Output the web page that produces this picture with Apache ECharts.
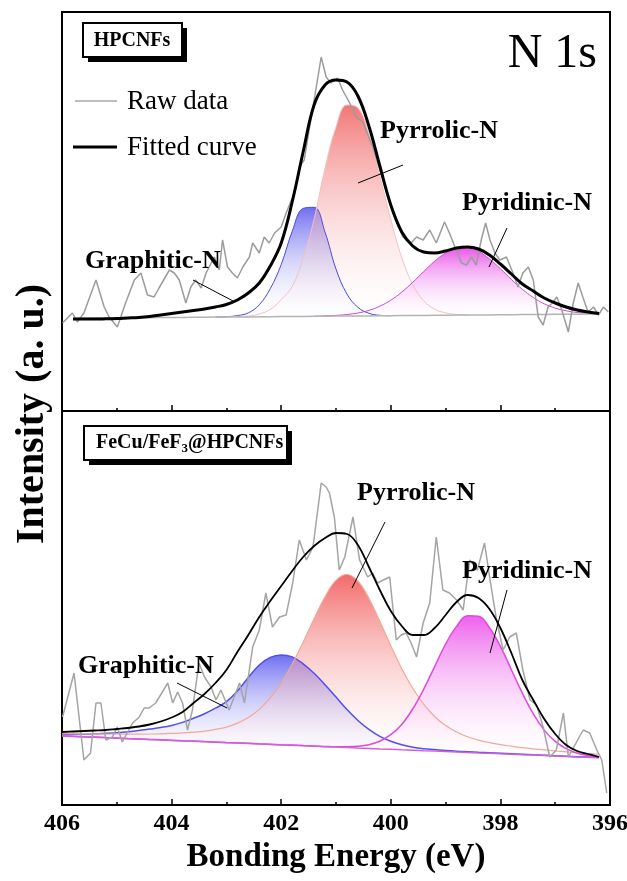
<!DOCTYPE html>
<html>
<head>
<meta charset="utf-8">
<script src="https://cdn.jsdelivr.net/npm/echarts@6/dist/echarts.min.js"></script>
<style>
  html, body { margin: 0; padding: 0; background: #fff; }
  #chart { width: 627px; height: 881px; }
</style>
</head>
<body>
<div id="chart"></div>
<script>
// energy grid shared by the fitted curves and the peak components (eV)
const energy = [406.0, 405.8, 405.6, 405.4, 405.2, 405.0, 404.8, 404.6, 404.4, 404.2,
  404.0, 403.8, 403.6, 403.4, 403.2, 403.0, 402.8, 402.6, 402.4, 402.2,
  402.0, 401.8, 401.6, 401.4, 401.2, 401.0, 400.8, 400.6, 400.4, 400.2,
  400.0, 399.8, 399.6, 399.4, 399.2, 399.0, 398.8, 398.6, 398.4, 398.2,
  398.0, 397.8, 397.6, 397.4, 397.2, 397.0, 396.8, 396.6, 396.4, 396.2, 396.0]
const xTicks = [406, 404, 402, 400, 398, 396]

// ---- HPCNFs (top panel) ----
const baseTop = [null, 91.7, 91.8, 91.9, 92.0, 92.1, 92.2, 92.2, 92.3, 92.4,
  92.5, 92.6, 92.7, 92.8, 92.9, 93.0, 93.1, 93.1, 93.2, 93.3,
  93.4, 93.5, 93.6, 93.7, 93.8, 93.9, 94.0, 94.0, 94.1, 94.2,
  94.3, 94.4, 94.5, 94.6, 94.7, 94.8, 94.9, 94.9, 95.0, 95.1,
  95.2, 95.3, 95.4, 95.5, 95.6, 95.7, 95.8, 95.8, 95.9, 96.0, null]
const graphiticTop = [null, null, null, null, null, null, null, null, null, null,
  null, null, null, null, 0, 0.3, 1.3, 4, 12, 28,
  52, 85, 108, 109, 84, 47, 22, 8.6, 2.6, 0.5,
  0, null, null, null, null, null, null, null, null, null,
  null, null, null, null, null, null, null, null, null, null, null]
const pyrrolicTop = [null, null, null, null, null, null, null, null, null, null,
  null, null, null, null, null, 0, 0.5, 0.9, 2.8, 7.3,
  17, 30, 58, 97, 148, 189, 211, 208, 182, 140,
  96, 58, 31, 14.6, 6.1, 2.3, 0.7, 0, null, null,
  null, null, null, null, null, null, null, null, null, null, null]
const pyridinicTop = [null, null, null, null, null, null, null, null, null, null,
  null, null, null, null, null, null, null, null, null, null,
  null, null, null, 0, 0.3, 0.7, 1.5, 3.0, 5.5, 9.6,
  15.5, 23.5, 33.2, 43.8, 54.1, 62.3, 67.2, 67.6, 63.6, 56,
  46, 35.3, 25.3, 17, 10.6, 6.2, 3.4, 1.7, 0.8, 0.4, null]
const fitTop = [null, 91, 91, 91, 91.2, 91.5, 92, 92.5, 93.5, 95,
  96.5, 98, 99.5, 101, 103, 105.5, 110, 117, 127, 144,
  167, 208, 258, 305, 325, 330, 328, 314, 284, 244,
  205, 178, 164, 158, 157, 159, 162, 163, 161, 155,
  146, 136, 126, 119, 112, 107, 103, 100, 98, 96.5, null]
const rawTopE = [405.99, 405.81, 405.72, 405.60, 405.38, 405.23, 405.14, 404.99, 404.84, 404.68,
  404.56, 404.44, 404.32, 404.23, 404.04, 403.95, 403.86, 403.74, 403.65, 403.56,
  403.46, 403.37, 403.22, 403.13, 403.07, 402.98, 402.89, 402.80, 402.70, 402.58,
  402.52, 402.40, 402.31, 402.22, 402.12, 402.00, 401.91, 401.79, 401.73, 401.67,
  401.58, 401.52, 401.42, 401.36, 401.27, 401.18, 401.09, 400.97, 400.88, 400.75,
  400.63, 400.51, 400.33, 400.14, 399.96, 399.78, 399.63, 399.53, 399.41, 399.29,
  399.17, 399.02, 398.93, 398.83, 398.71, 398.62, 398.53, 398.44, 398.35, 398.27,
  398.19, 398.10, 398.01, 397.89, 397.77, 397.68, 397.59, 397.49, 397.40, 397.31,
  397.22, 397.13, 397.05, 396.97, 396.88, 396.76, 396.67, 396.58, 396.49, 396.40,
  396.30, 396.21, 396.12, 396.03]
const rawTopI = [87, 97, 88, 97, 130, 103, 93, 83, 107, 130,
  137, 115, 113, 122, 140, 137, 130, 107, 123, 130,
  122, 137, 153, 140, 170, 143, 137, 132, 143, 153,
  167, 157, 173, 167, 177, 183, 197, 213, 223, 243,
  250, 270, 303, 323, 353, 333, 327, 332, 320, 307,
  293, 288, 263, 230, 197, 173, 167, 173, 170, 180,
  167, 188, 177, 163, 147, 145, 153, 145, 170, 187,
  170, 157, 150, 153, 137, 123, 137, 143, 130, 93,
  85, 103, 107, 113, 100, 78, 107, 127, 112, 98,
  103, 95, 103, 98]

// ---- FeCu/FeF3@HPCNFs (bottom panel) ----
const baseBot = [69.0, 68.6, 68.1, 67.7, 67.2, 66.8, 66.3, 65.9, 65.4, 65.0,
  64.6, 64.1, 63.7, 63.2, 62.8, 62.3, 61.9, 61.5, 61.0, 60.6,
  60.1, 59.7, 59.2, 58.8, 58.3, 57.9, 57.5, 57.0, 56.6, 56.1,
  55.7, 55.2, 54.8, 54.3, 53.9, 53.5, 53.0, 52.6, 52.1, 51.7,
  51.2, 50.8, 50.3, 49.9, 49.5, 49.0, 48.6, 48.1, 47.7, 47.2, null]
const graphiticBot = [2, 2.5, 3, 3.5, 4.5, 5.5, 7, 8.5, 10.5, 12.5,
  15, 18.5, 23, 28, 34, 41, 52, 66, 79, 87,
  90, 88.4, 82, 73, 62, 50, 38, 27.5, 19, 12.5,
  8, 5, 3, 2, 1.5, 1, 0.8, 0.7, 0.6, 0.5,
  0.5, 0.4, 0.4, 0.3, 0.3, 0.3, 0.2, 0.2, 0.2, 0.2, null]
const pyrrolicBot = [2.8, 3.0, 3.2, 3.5, 3.8, 4.2, 4.6, 5.0, 5.6, 6.2,
  7.0, 8.0, 9.2, 10.7, 12.8, 15.6, 20, 26, 34.6, 46.5,
  62, 81, 103.6, 127.5, 150, 166.8, 173, 166.8, 150, 127.5,
  103.6, 81, 62, 46.5, 34.6, 26, 20, 15.6, 12.8, 10.7,
  9.2, 8.0, 7.0, 6.2, 5.6, 5.0, 4.6, 4.2, 3.8, 3.5, null]
const pyridinicBot = [0.2, 0.2, 0.2, 0.2, 0.2, 0.2, 0.2, 0.2, 0.2, 0.2,
  0.2, 0.2, 0.2, 0.2, 0.2, 0.2, 0.2, 0.2, 0.2, 0.2,
  0.2, 0.2, 0.2, 0.2, 0.2, 0.3, 0.7, 1.7, 3.7, 7.7,
  14.6, 25.4, 41.2, 61.5, 84.5, 107.5, 125.6, 136.6, 136.6, 125.6,
  107.5, 84.5, 61.5, 41.2, 25.4, 14.6, 7.7, 3.7, 1.7, 0.7, null]
const fitBot = [73, 73.5, 74, 74.5, 75, 76, 77, 78.5, 80.5, 83.5,
  87.5, 93, 102, 111, 122, 135, 153, 170, 188, 204,
  219, 234, 248, 259, 267, 272, 271, 260, 238, 215,
  194, 179, 170, 170, 177, 190, 203, 210, 207, 196,
  177, 152, 125, 105, 86, 71, 60, 54, 51, 48, null]
const rawBotE = [405.99, 405.78, 405.60, 405.48, 405.38, 405.29, 405.20, 405.08, 404.99, 404.90,
  404.71, 404.59, 404.50, 404.41, 404.29, 404.07, 403.98, 403.89, 403.80, 403.71,
  403.62, 403.50, 403.40, 403.28, 403.19, 403.10, 402.95, 402.76, 402.67, 402.52,
  402.40, 402.28, 402.16, 402.03, 401.91, 401.79, 401.67, 401.54, 401.42, 401.27,
  401.18, 401.12, 401.03, 400.94, 400.84, 400.69, 400.57, 400.42, 400.33, 400.24,
  400.14, 400.02, 399.90, 399.81, 399.72, 399.63, 399.53, 399.41, 399.29, 399.17,
  399.05, 398.93, 398.80, 398.68, 398.56, 398.42, 398.29, 398.18, 398.07, 397.95,
  397.83, 397.71, 397.59, 397.46, 397.34, 397.22, 397.10, 396.98, 396.85, 396.76,
  396.62, 396.49, 396.37, 396.24, 396.15, 396.06]
const rawBotI = [88, 132, 45, 52, 102, 102, 65, 68, 78, 63,
  82, 88, 97, 97, 102, 122, 102, 113, 102, 75,
  95, 142, 128, 118, 105, 115, 95, 122, 102, 158,
  175, 212, 178, 188, 190, 222, 265, 245, 258, 322,
  318, 312, 288, 235, 248, 288, 245, 228, 232, 222,
  225, 228, 165, 170, 172, 162, 148, 182, 202, 268,
  215, 212, 205, 195, 245, 235, 262, 222, 185, 155,
  168, 172, 135, 105, 100, 78, 48, 55, 92, 48,
  62, 75, 72, 55, 45, 12]

const F = "'Liberation Serif', 'Times New Roman', serif"
const gaps = a => a.map(v => (v == null ? '-' : v))
const pairs = (xs, ys) => xs.map((x, i) => [x, ys[i]])
const fade = (c1, c2) => new echarts.graphic.LinearGradient(0, 0, 0, 1, [
  { offset: 0, color: c1 }, { offset: 1, color: c2 }
])

// each component is stacked on its own (hidden) copy of the baseline
function component(stack, panel, base, vals, line, lw, c1, c2) {
  return [
    { type: 'line', xAxisIndex: panel * 2, yAxisIndex: panel, stack, data: gaps(base),
      symbol: 'none', lineStyle: { opacity: 0 }, silent: true },
    { type: 'line', xAxisIndex: panel * 2, yAxisIndex: panel, stack, data: gaps(vals),
      symbol: 'none', smooth: 0.4, lineStyle: { color: line, width: lw },
      areaStyle: { color: fade(c1, c2), opacity: 1 } }
  ]
}

const catAxis = grid => ({ type: 'category', gridIndex: grid, position: 'top', data: energy, boundaryGap: false, show: false })
const valAxis = (grid, labels) => ({
  type: 'value', gridIndex: grid, position: 'bottom', min: 396, max: 406, interval: 2, inverse: true,
  axisLine: { show: false, onZero: false },
  axisTick: { show: true, inside: true, length: 6, lineStyle: { color: '#000', width: 1.5 } },
  minorTick: { show: true, splitNumber: 2, length: 3, lineStyle: { color: '#000', width: 1.5 } },
  splitLine: { show: false },
  axisLabel: {
    show: labels, margin: 7, color: '#000', fontFamily: F, fontWeight: 'bold', fontSize: 24,
    formatter: v => (xTicks.indexOf(v) >= 0 ? String(v) : '')
  }
})

const txt = (text, x, y, size, weight, align) => ({
  type: 'text', x, y, z: 100,
  style: { text, font: `${weight} ${size}px ${F}`, fill: '#000', align: align || 'left', verticalAlign: 'middle' }
})
const seg = (x1, y1, x2, y2, color, w) => ({
  type: 'line', z: 100, shape: { x1, y1, x2, y2 }, style: { stroke: color || '#000', lineWidth: w || 1 }
})
const box = (x, y, w, h) => [
  { type: 'rect', z: 99, shape: { x: x + 5, y: y + 5, width: w, height: h }, style: { fill: '#000' } },
  { type: 'rect', z: 99, shape: { x, y, width: w, height: h }, style: { fill: '#fff', stroke: '#000', lineWidth: 2 } }
]

const panelGrid = (top, height) => ({
  left: 62, right: 17, top, height, containLabel: false, outerBoundsMode: 'none',
  show: true, borderColor: '#000', borderWidth: 2, backgroundColor: 'transparent'
})

const option = {
  animation: false,
  backgroundColor: '#fff',
  grid: [panelGrid(12, 399), panelGrid(411, 394)],
  xAxis: [catAxis(0), valAxis(0, false), catAxis(1), valAxis(1, true)],
  yAxis: [
    { type: 'value', gridIndex: 0, min: -1, max: 398, show: false },
    { type: 'value', gridIndex: 1, min: 0, max: 394, show: false }
  ],
  series: [
    ...component('gT', 0, baseTop, graphiticTop, '#4a4ae0', 1, 'rgba(95,95,238,0.9)', 'rgba(255,255,255,0.15)'),
    ...component('rT', 0, baseTop, pyrrolicTop, '#f2c2c2', 1, 'rgba(240,95,95,0.85)', 'rgba(255,255,255,0.15)'),
    ...component('pT', 0, baseTop, pyridinicTop, '#d048d8', 1, 'rgba(230,70,230,0.9)', 'rgba(255,255,255,0.15)'),
    { type: 'line', xAxisIndex: 0, yAxisIndex: 0, data: gaps(baseTop), symbol: 'none',
      lineStyle: { color: '#b4b4b4', width: 1.5 } },
    { type: 'line', xAxisIndex: 1, yAxisIndex: 0, data: pairs(rawTopE, rawTopI), symbol: 'none',
      lineStyle: { color: '#9c9c9c', width: 1.5 } },
    { type: 'line', xAxisIndex: 0, yAxisIndex: 0, data: gaps(fitTop), symbol: 'none', smooth: 0.4,
      lineStyle: { color: '#000', width: 3 } },

    ...component('gB', 1, baseBot, graphiticBot, '#5050ea', 1.5, 'rgba(95,95,240,0.9)', 'rgba(255,255,255,0.15)'),
    ...component('rB', 1, baseBot, pyrrolicBot, '#f0a898', 1.2, 'rgba(240,80,80,0.85)', 'rgba(255,255,255,0.15)'),
    ...component('pB', 1, baseBot, pyridinicBot, '#e048e0', 1.5, 'rgba(235,80,235,0.9)', 'rgba(255,255,255,0.15)'),
    { type: 'line', xAxisIndex: 2, yAxisIndex: 1, data: gaps(baseBot), symbol: 'none',
      lineStyle: { color: '#d060d8', width: 1.5 } },
    { type: 'line', xAxisIndex: 3, yAxisIndex: 1, data: pairs(rawBotE, rawBotI), symbol: 'none',
      lineStyle: { color: '#a4a4a4', width: 1.5 } },
    { type: 'line', xAxisIndex: 2, yAxisIndex: 1, data: gaps(fitBot), symbol: 'none', smooth: 0.4,
      lineStyle: { color: '#000', width: 1.8 } }
  ],
  graphic: [
    // top panel
    ...box(83, 23, 99, 34),
    txt('HPCNFs', 132, 41, 20, 'bold', 'center'),
    txt('N 1s', 597, 54, 48, 'normal', 'right'),
    seg(75, 101, 117, 101, '#a8a8a8', 1.5),
    txt('Raw data', 127, 102, 27, 'normal'),
    seg(73, 147, 117, 147, '#000', 3),
    txt('Fitted curve', 127, 148, 27, 'normal'),
    txt('Graphitic-N', 85, 261, 26, 'bold'),
    seg(193, 280, 235, 302),
    txt('Pyrrolic-N', 380, 131, 26, 'bold'),
    seg(358, 183, 403, 165),
    txt('Pyridinic-N', 462, 203, 26, 'bold'),
    seg(489, 267, 507, 228),
    // bottom panel
    ...box(84, 426, 203, 34),
    {
      type: 'text', x: 96, y: 443, z: 100,
      style: {
        text: '{a|FeCu/FeF}{s|3}{a|@HPCNFs}', align: 'left', verticalAlign: 'middle',
        rich: {
          a: { font: `bold 20px ${F}`, fill: '#000', lineHeight: 24, verticalAlign: 'middle' },
          s: { font: `bold 13px ${F}`, fill: '#000', lineHeight: 13, verticalAlign: 'bottom' }
        }
      }
    },
    txt('Pyrrolic-N', 357, 493, 26, 'bold'),
    seg(385, 522, 352, 588),
    txt('Pyridinic-N', 462, 571, 26, 'bold'),
    seg(507, 590, 490, 653),
    txt('Graphitic-N', 78, 666, 26, 'bold'),
    seg(177, 683, 227, 708),
    // axis titles
    { type: 'text', x: 33, y: 414, z: 100, rotation: Math.PI / 2,
      style: { text: 'Intensity (a. u.)', font: `bold 40px ${F}`, fill: '#000', align: 'center', verticalAlign: 'middle' } },
    txt('Bonding Energy (eV)', 336, 857, 33, 'bold', 'center')
  ]
}

const chart = echarts.init(document.getElementById('chart'))
chart.setOption(option)
</script>
</body>
</html>
